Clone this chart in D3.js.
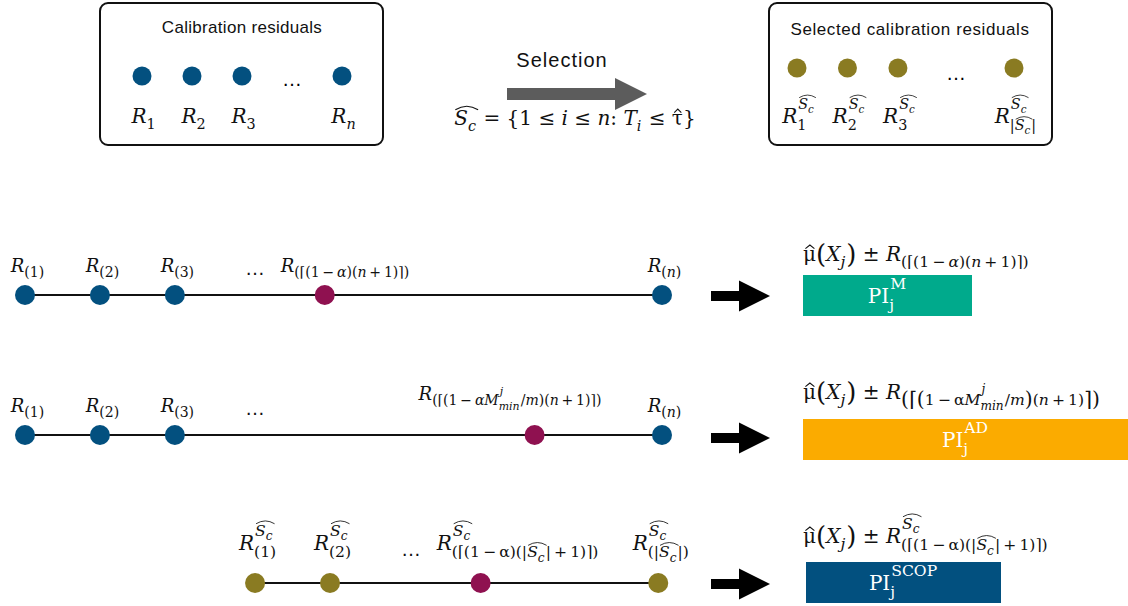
<!DOCTYPE html>
<html><head><meta charset="utf-8">
<script src="https://cdn.jsdelivr.net/npm/d3@7"></script>
<style>body{margin:0;background:#fff} text{white-space:pre}</style>
</head><body>
<script>
var W = 1128, H = 606;
var blue = "#03507f", olive = "#8a7b22", berry = "#8f1150";
var mathFont = "'DejaVu Serif', serif";
var sansFont = "'Liberation Sans', Arial, sans-serif";
var scriptRatio = 0.7;

// little helpers to describe formulas
function r(t) { return {t: t}; }
function it(t) { return {t: t, it: true}; }
function big(t) { return {t: t, big: true}; }
function sc(sub, sup) { return {sub: sub, sup: sup}; }
function caret(t) { return {hat: [r(t)], caret: true}; }
var Sc = {hat: [it("S"), sc([it("c")])]};

// top boxes: slots of the residuals (the "…" sits in slot 3)
var calibSlots = [0, 1, 2, 4];
var calibLabels = [
  [it("R"), sc([r("1")])], [it("R"), sc([r("2")])], [it("R"), sc([r("3")])], [it("R"), sc([it("n")])]
];
var selectedSlots = [0, 1, 2, 4.3];
var selectedLabels = [
  [it("R"), sc([r("1")], [Sc])], [it("R"), sc([r("2")], [Sc])], [it("R"), sc([r("3")], [Sc])],
  [it("R"), sc([r("|"), Sc, r("|")], [Sc])]
];

// ordered residuals on the three lines (rank position, kind)
var rows = ["M", "AD", "SCOP"];
var rankPos = [
  [0, 1, 2, 4, 8.5],
  [0, 1, 2, 6.8, 8.5],
  [3.07, 4.07, 6.08, 8.45]
];
var rankKind = [
  ["r", "r", "r", "q", "r"],
  ["r", "r", "r", "q", "r"],
  ["s", "s", "q", "s"]
];
var dotsPos = [3.07, 3.07, 5.15];
var quantSub = [
  [r("(⌈(1\u2009−\u2009"), it("α"), r(")("), it("n"), r("\u2009+\u20091)⌉)")],
  [r("(⌈(1\u2009−\u2009"), it("αM"), sc([it("min")], [it("j")]), r("/"), it("m"), r(")("), it("n"), r("\u2009+\u20091)⌉)")],
  [r("(⌈(1\u2009−\u2009α)(|"), Sc, r("|\u2009+\u20091)⌉)")]
];
var formulaSub = [
  quantSub[0],
  [big("("), big("⌈"), big("("), r("1\u2009−\u2009α"), it("M"), sc([it("min")], [it("j")]), r("/"), it("m"), big(")"),
   r("("), it("n"), r("\u2009+\u20091)"), big("⌉"), big(")")],
  quantSub[2]
];
var rankLabels = [
  [[it("R"), sc([r("(1)")])], [it("R"), sc([r("(2)")])], [it("R"), sc([r("(3)")])],
   [it("R"), sc(quantSub[0])], [it("R"), sc([r("("), it("n"), r(")")])]],
  [[it("R"), sc([r("(1)")])], [it("R"), sc([r("(2)")])], [it("R"), sc([r("(3)")])],
   [it("R"), sc(quantSub[1])], [it("R"), sc([r("("), it("n"), r(")")])]],
  [[it("R"), sc([r("(1)")], [Sc])], [it("R"), sc([r("(2)")], [Sc])],
   [it("R"), sc(quantSub[2], [Sc])], [it("R"), sc([r("(|"), Sc, r("|)")], [Sc])]]
];
// prediction intervals (relative length) and their names
var piLength = [0.52, 1.0, 0.6];
var piNames = ["M", "AD", "SCOP"];
var piColors = ["#00aa8c", "#fbab00", "#02507f"];
var piFormulas = [
  [caret("μ"), big("("), it("X"), sc([it("j")]), big(")"), r(" ± "), it("R"), sc(formulaSub[0])],
  [caret("μ"), big("("), it("X"), sc([it("j")]), big(")"), r(" ± "), it("R"), sc(formulaSub[1])],
  [caret("μ"), big("("), it("X"), sc([it("j")]), big(")"), r(" ± "), it("R"), sc(formulaSub[2], [Sc])]
];

// layout
var rowY = d3.scaleOrdinal().domain(rows).range([295, 435, 583]);
var xRank = d3.scaleLinear().domain([0, 8.5]).range([25, 662]);
var xCalib = d3.scaleLinear().domain([0, 4]).range([142, 342]);
var xSel = d3.scaleLinear().domain([0, 4.3]).range([797, 1014]);
var xPI = d3.scaleLinear().domain([0, 1]).range([0, 325]);
var piLeft = [803, 803, 806];
var piTop = [-20, -16, -21];
var formulaDy = [-34, -36, -40];
var quantOffset = [-44, -116, -44];
var labelFs = [18, 18, 20];
var kindColor = {r: blue, s: olive, q: berry};

var svg = d3.select("body").append("svg").attr("width", W).attr("height", H);

function place(g, items, x, y, fs) {
  var cx = x;
  items.forEach(function (d) {
    if (d.t !== undefined) {
      var t = g.append("text").attr("x", cx).attr("y", d.big ? y + fs * 0.1 : y).attr("font-size", d.big ? fs * 1.3 : fs)
        .attr("font-style", d.it ? "italic" : "normal").text(d.t);
      cx += t.node().getComputedTextLength();
    } else if (d.hat) {
      var x0 = cx, sw = Math.max(0.8, fs * 0.055);
      cx = place(g, d.hat, cx, y, fs);
      var path = d.caret
        ? "M" + (x0 + fs * 0.12) + "," + (y - fs * 0.62) + " L" + ((x0 + cx) / 2 + fs * 0.02) + "," + (y - fs * 0.8) + " L" + (cx - fs * 0.08) + "," + (y - fs * 0.62)
        : "M" + (x0 + 1) + "," + (y - fs * 0.76) + " Q" + ((x0 + cx) / 2 + 1) + "," + (y - fs * 1.12) + " " + (cx + 1) + "," + (y - fs * 0.76);
      g.append("path").attr("d", path).attr("fill", "none").attr("stroke", g.attr("fill")).attr("stroke-width", sw);
    } else {
      var s = fs * scriptRatio, both = d.sub && d.sup;
      var e1 = d.sup ? place(g, d.sup, cx + 1, y - fs * (both ? 0.72 : 0.45), s) : cx;
      var e2 = d.sub ? place(g, d.sub, cx, y + fs * (both ? 0.36 : 0.28), s) : cx;
      cx = Math.max(e1, e2) + 1;
    }
  });
  return cx;
}

function math(x, y, items, fs, anchor, col) {
  var g = svg.append("g").attr("fill", col || "#111").attr("font-family", mathFont);
  var w = place(g, items, 0, 0, fs);
  var shift = anchor == "middle" ? -w / 2 : 0;
  g.attr("transform", "translate(" + (x + shift) + "," + y + ")");
  return w;
}

function arrow(x0, x1, headX, y, shaft, head, col) {
  svg.append("path")
    .attr("d", "M" + x0 + "," + (y - shaft / 2) + " L" + headX + "," + (y - shaft / 2) + " L" + headX + "," + (y - head / 2) +
      " L" + x1 + "," + y + " L" + headX + "," + (y + head / 2) + " L" + headX + "," + (y + shaft / 2) + " L" + x0 + "," + (y + shaft / 2) + "Z")
    .attr("fill", col);
}

// ---- top part ----
svg.append("rect").attr("x", 100).attr("y", 3).attr("width", 283).attr("height", 142).attr("rx", 8)
  .attr("fill", "none").attr("stroke", "#111").attr("stroke-width", 2);
svg.append("rect").attr("x", 769).attr("y", 3).attr("width", 283).attr("height", 142).attr("rx", 8)
  .attr("fill", "none").attr("stroke", "#111").attr("stroke-width", 2);

svg.append("text").attr("x", 242).attr("y", 33).attr("text-anchor", "middle").attr("font-family", sansFont)
  .attr("font-size", 17).attr("letter-spacing", 0.3).attr("fill", "#111").text("Calibration residuals");
svg.append("text").attr("x", 910).attr("y", 35).attr("text-anchor", "middle").attr("font-family", sansFont)
  .attr("font-size", 17).attr("letter-spacing", 0.6).attr("fill", "#111").text("Selected calibration residuals");

scriptRatio = 0.72;
svg.selectAll("circle.calib").data(calibSlots).enter().append("circle").attr("class", "calib")
  .attr("cx", function (d) { return xCalib(d); }).attr("cy", 76).attr("r", 9.5).attr("fill", blue);
calibSlots.forEach(function (d, k) { math(xCalib(d) + 2, 123, calibLabels[k], 20, "middle"); });
svg.append("text").attr("x", xCalib(3)).attr("y", 86).attr("text-anchor", "middle").attr("font-size", 20)
  .attr("font-family", sansFont).text("…");

svg.selectAll("circle.sel").data(selectedSlots).enter().append("circle").attr("class", "sel")
  .attr("cx", function (d) { return xSel(d); }).attr("cy", 68).attr("r", 9.5).attr("fill", olive);
selectedSlots.forEach(function (d, k) { math(xSel(d) + 2, 123, selectedLabels[k], 20, "middle"); });
svg.append("text").attr("x", 956).attr("y", 80).attr("text-anchor", "middle").attr("font-size", 20)
  .attr("font-family", sansFont).text("…");

arrow(507, 647, 615, 94, 12, 32, "#5c5c5c");
svg.append("text").attr("x", 562).attr("y", 67).attr("text-anchor", "middle").attr("font-family", sansFont)
  .attr("font-size", 20).attr("letter-spacing", 1).attr("fill", "#111").text("Selection");
math(575, 125, [Sc, r(" = {1 ≤ "), it("i"), r(" ≤ "), it("n"), r(": "), it("T"), sc([it("i")]), r(" ≤ "), caret("τ"), r("}")], 20, "middle");

// ---- three rows ----
scriptRatio = 0.78;
rows.forEach(function (row, k) {
  var y = rowY(row);
  var pos = rankPos[k];
  svg.append("line").attr("x1", xRank(d3.min(pos))).attr("x2", xRank(d3.max(pos)))
    .attr("y1", y).attr("y2", y).attr("stroke", "#111").attr("stroke-width", 2);
  svg.selectAll("circle.row" + k).data(pos).enter().append("circle").attr("class", "row" + k)
    .attr("cx", function (d) { return xRank(d); }).attr("cy", y).attr("r", 10)
    .attr("fill", function (d, j) { return kindColor[rankKind[k][j]]; });
  pos.forEach(function (d, j) {
    var ly = k == 2 ? y - 33 : y - 23;
    if (rankKind[k][j] == "q") math(xRank(d) + quantOffset[k], k == 1 ? y - 35 : ly, rankLabels[k][j], labelFs[k], "start");
    else math(xRank(d) + 3, ly, rankLabels[k][j], labelFs[k], "middle");
  });
  svg.append("text").attr("x", xRank(dotsPos[k])).attr("y", k == 2 ? y - 27 : y - 20).attr("text-anchor", "middle")
    .attr("font-size", 20).attr("font-family", sansFont).attr("fill", "#111").text("…");

  arrow(711, 770, 739, y + (k == 1 ? 3 : 1), 10, 31, "#000");
  math(803, y + formulaDy[k], piFormulas[k], 20, "start");
  var top = y + piTop[k];
  svg.append("rect").attr("x", piLeft[k]).attr("y", top).attr("width", xPI(piLength[k])).attr("height", 41)
    .attr("fill", piColors[k]);
  math(piLeft[k] + xPI(piLength[k]) / 2, top + 28, [r("PI"), sc([r("j")], [r(piNames[k])])], 20, "middle", "#fff");
});
</script>
</body></html>
